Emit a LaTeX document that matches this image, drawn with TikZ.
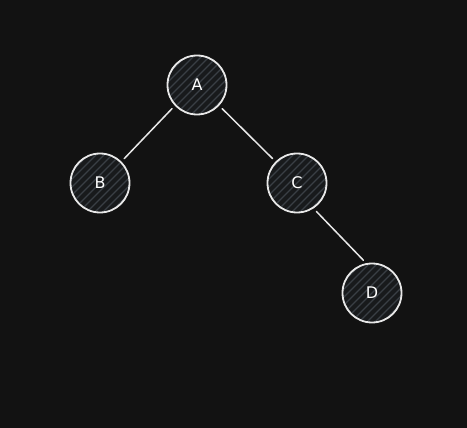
\documentclass[tikz,border=0pt]{standalone}
\usepackage{fontspec}
\setsansfont{DejaVu Sans}
\definecolor{bgcol}{HTML}{121212}
\definecolor{strokecol}{HTML}{E8E8E8}
\definecolor{hatchcol}{HTML}{3A3F45}
\definecolor{fillcol}{HTML}{181A1C}
\tikzset{
  treenode/.style={circle, draw=strokecol, line width=1.8pt, fill=fillcol,
    minimum size=59pt, inner sep=0pt, text=white,
    font=\sffamily\fontsize{16}{16}\selectfont,
    path picture={
      \foreach \k in {-72,-64,...,72}
        \draw[hatchcol, line width=1.1pt]
          ([xshift=\k pt]path picture bounding box.center) ++(-45pt,-45pt) -- ++(90pt,90pt);
    }},
  treeedge/.style={draw=strokecol, line width=1.5pt, line cap=round,
    shorten <=4pt, shorten >=4pt}
}
\begin{document}
\begin{tikzpicture}[x=1pt,y=-1pt]
  \fill[bgcol] (0,0) rectangle (467,428);
  \useasboundingbox (0,0) rectangle (467,428);
  \node[treenode] (A) at (197,85) {A};
  \node[treenode] (B) at (100,183) {B};
  \node[treenode] (C) at (297,183) {C};
  \node[treenode] (D) at (372,293) {D};
  \draw[treeedge] (A.-137) -- (B.45);
  \draw[treeedge] (A.-43) -- (C.135);
  \draw[treeedge] (C.-57) -- (D.101);
\end{tikzpicture}
\end{document}
